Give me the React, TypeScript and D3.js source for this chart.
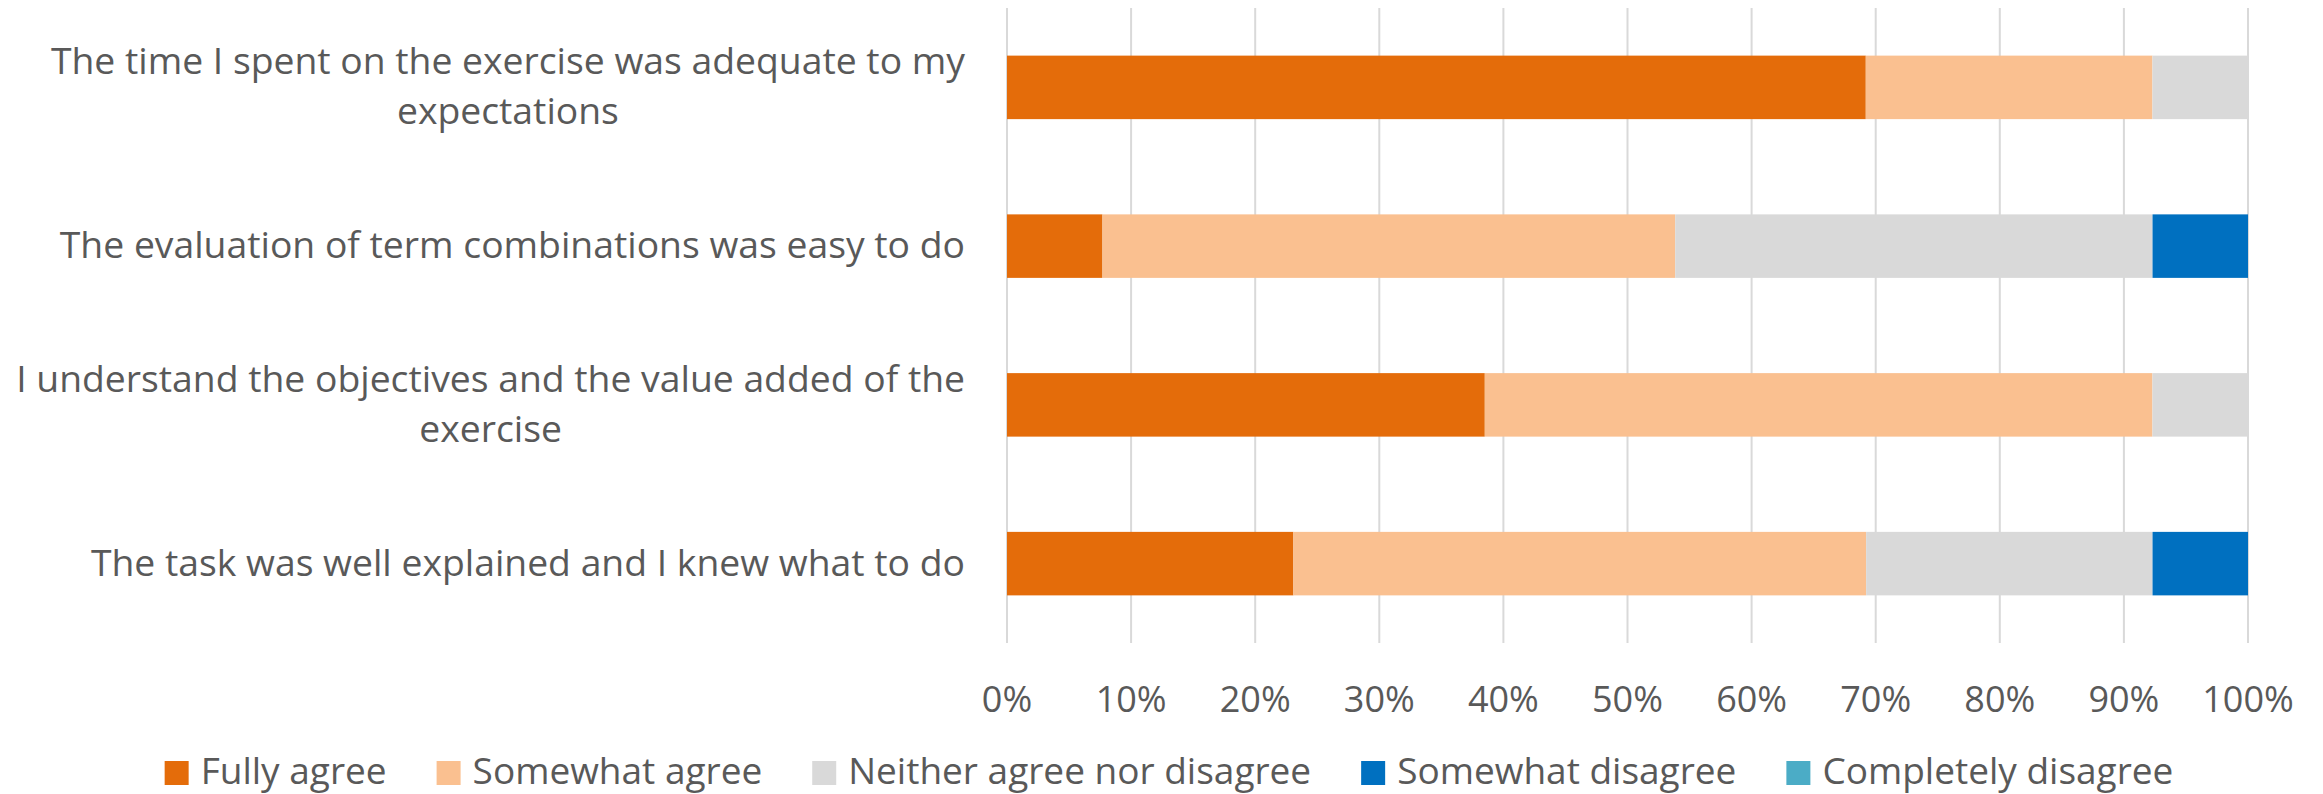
import React, { useEffect, useRef } from "react";
import * as d3 from "d3";

const categoryLines: string[][] = [
  ["The time I spent on the exercise was adequate to my", "expectations"],
  ["The evaluation of term combinations was easy to do"],
  ["I understand the objectives and the value added of the", "exercise"],
  ["The task was well explained and I knew what to do"],
];
const seriesNames = [
  "Fully agree",
  "Somewhat agree",
  "Neither agree nor disagree",
  "Somewhat disagree",
  "Completely disagree",
];
const seriesColors = ["#E46C0A", "#FAC090", "#D9D9D9", "#0070C0", "#4BACC6"];
const fullyAgree = [69.2, 7.7, 38.5, 23.1];
const somewhatAgree = [23.1, 46.2, 53.8, 46.2];
const neitherAgree = [7.7, 38.5, 7.7, 23.1];
const somewhatDisagree = [0, 7.7, 0, 7.7];
const completelyDisagree = [0, 0, 0, 0];
const tickValues = [0, 0.1, 0.2, 0.3, 0.4, 0.5, 0.6, 0.7, 0.8, 0.9, 1];

const W = 2323;
const H = 794;
const FONT = "'Open Sans', 'Noto Sans', sans-serif";
const TEXT = "#595959";

export default function App() {
  const ref = useRef<SVGSVGElement>(null);

  useEffect(() => {
    const svg = d3.select(ref.current);
    svg.selectAll("*").remove();

    const seriesValues = [fullyAgree, somewhatAgree, neitherAgree, somewhatDisagree, completelyDisagree];
    const rows = categoryLines.map((_, i) => {
      const r: any = { idx: i };
      seriesNames.forEach((n, s) => (r[n] = seriesValues[s][i]));
      return r;
    });
    const stack = d3.stack<any>().keys(seriesNames).offset(d3.stackOffsetExpand);
    const stacked = stack(rows);

    const x = d3.scaleLinear().domain([0, 1]).range([1007, 2248]);
    const y = d3
      .scaleBand<number>()
      .domain(categoryLines.map((_, i) => i))
      .range([8, 643])
      .paddingInner(0.6)
      .paddingOuter(0.3);

    // gridlines
    svg
      .append("g")
      .selectAll("line")
      .data(tickValues)
      .join("line")
      .attr("x1", (d) => x(d))
      .attr("x2", (d) => x(d))
      .attr("y1", 8)
      .attr("y2", 643)
      .attr("stroke", "#D9D9D9")
      .attr("stroke-width", 2);

    // bars
    svg
      .append("g")
      .selectAll("g")
      .data(stacked)
      .join("g")
      .attr("fill", (_, i) => seriesColors[i])
      .selectAll("rect")
      .data((d) => d)
      .join("rect")
      .attr("x", (d) => x(d[0]))
      .attr("width", (d) => Math.max(0, x(d[1]) - x(d[0])))
      .attr("y", (d: any) => y(d.data.idx)!)
      .attr("height", y.bandwidth());

    // tick labels
    svg
      .append("g")
      .selectAll("text")
      .data(tickValues)
      .join("text")
      .attr("x", (d) => x(d))
      .attr("y", 712)
      .attr("text-anchor", "middle")
      .attr("font-family", FONT)
      .attr("font-size", 36)
      .attr("fill", TEXT)
      .text((d) => d3.format(".0%")(d));

    // category labels
    const labelRight = 965;
    const lineH = 50;
    categoryLines.forEach((lines, i) => {
      const cy = y(i)! + y.bandwidth() / 2;
      const g = svg.append("g");
      const texts = lines.map((ln, j) =>
        g
          .append("text")
          .attr("y", cy + 12 + (j - (lines.length - 1) / 2) * lineH)
          .attr("text-anchor", "middle")
          .attr("font-family", FONT)
          .attr("font-size", 37.3)
          .attr("fill", TEXT)
          .text(ln)
      );
      const maxW = d3.max(texts, (t) => (t.node() as SVGTextElement).getComputedTextLength()) || 0;
      texts.forEach((t) => t.attr("x", labelRight - maxW / 2));
    });

    // legend
    const lg = svg.append("g");
    let cx = 0;
    const sq = 24;
    seriesNames.forEach((n, i) => {
      const it = lg.append("g");
      it.append("rect").attr("x", cx).attr("y", 761).attr("width", sq).attr("height", sq).attr("fill", seriesColors[i]);
      const t = it
        .append("text")
        .attr("x", cx + sq + 12)
        .attr("y", 784)
        .attr("font-family", FONT)
        .attr("font-size", 37)
        .attr("fill", TEXT)
        .text(n);
      const tw = (t.node() as SVGTextElement).getComputedTextLength();
      cx += sq + 12 + tw + (i < seriesNames.length - 1 ? 50 : 0);
    });
    lg.attr("transform", `translate(${1169 - cx / 2},0)`);
  }, []);

  return (
    <svg
      ref={ref}
      width={W}
      height={H}
      style={{ position: "absolute", left: 0, top: 0, background: "#fff" }}
    />
  );
}
